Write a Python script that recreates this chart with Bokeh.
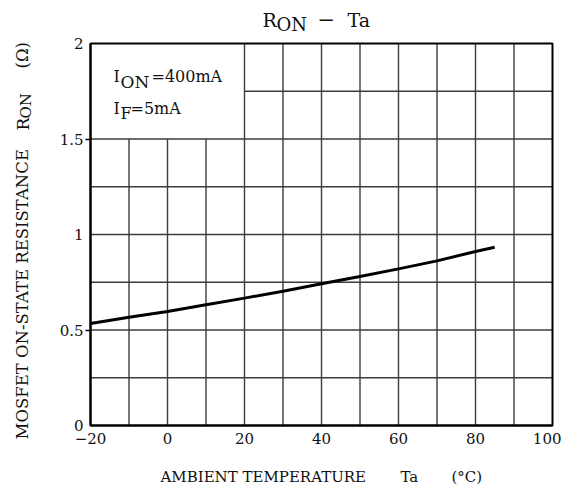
from bokeh.plotting import figure
from bokeh.models import Range1d, FixedTicker, Label
from bokeh.embed import file_html
from bokeh.resources import INLINE
import math

# ---- data ----
temps = [-20, -10, 0, 10, 20, 30, 40, 50, 60, 70, 80, 85]
ron = [0.534, 0.567, 0.597, 0.632, 0.667, 0.703, 0.742, 0.780, 0.820, 0.862, 0.911, 0.933]
x_ticks = [-20, 0, 20, 40, 60, 80, 100]
x_tick_labels = ["\u221220", "0", "20", "40", "60", "80", "100"]
y_ticks = [0, 0.5, 1, 1.5, 2]
y_tick_labels = ["0", "0.5", "1", "1.5", "2"]
y_tick_marks = [0.5, 1.5]
x_grid = [-10, 0, 10, 20, 30, 40, 50, 60, 70, 80, 90]
y_grid = [0.25, 0.5, 0.75, 1.0, 1.25, 1.5, 1.75]
x_lim = [-20, 100]
y_lim = [0, 2]
box_x = [-20, 20]      # blank condition box (upper-left)
box_y = [1.5, 2.0]

# ---- layout (pixels) ----
W, H = 561, 485
PL, PR, PT, PB = 90, 552, 43, 425   # plot area edges in canvas px
BASE_FIX = 6                        # label anchor correction

sx = (x_lim[1] - x_lim[0]) / (PR - PL)
sy = (y_lim[1] - y_lim[0]) / (PB - PT)
xr = Range1d(x_lim[0] - PL * sx, x_lim[1] + (W - PR) * sx)
yr = Range1d(y_lim[0] - (H - PB) * sy, y_lim[1] + PT * sy)

FONT = "DejaVu Serif"
INK = "#111111"
GRID = "#3c3c3c"

p = figure(width=W, height=H, output_backend="svg", toolbar_location=None,
           x_range=xr, y_range=yr,
           min_border_left=0, min_border_right=0, min_border_top=0, min_border_bottom=0)
p.background_fill_color = "white"
p.border_fill_color = "white"
p.outline_line_color = None
p.xgrid.visible = False
p.ygrid.visible = False

# ---- axes fixed at the plot-area edges ----
p.xaxis.fixed_location = y_lim[0]
p.xaxis.bounds = (x_lim[0], x_lim[1])
p.yaxis.fixed_location = x_lim[0]
p.yaxis.bounds = (y_lim[0], y_lim[1])
p.xaxis.ticker = FixedTicker(ticks=x_ticks)
p.yaxis.ticker = FixedTicker(ticks=y_ticks, minor_ticks=y_tick_marks)
p.xaxis.major_label_overrides = {t: l for t, l in zip(x_ticks, x_tick_labels)}
p.yaxis.major_label_overrides = {t: l for t, l in zip(y_ticks, y_tick_labels)}
for ax in (p.xaxis[0], p.yaxis[0]):
    ax.axis_line_color = "black"
    ax.axis_line_width = 2
    ax.major_label_text_font = FONT
    ax.major_label_text_font_size = "15px"
    ax.major_label_text_color = INK
    ax.major_tick_in = 0
    ax.major_tick_out = 0
    ax.minor_tick_in = 0
p.xaxis.minor_tick_out = 0
p.xaxis.major_label_standoff = 7
p.yaxis.minor_tick_out = 5
p.yaxis.minor_tick_line_width = 1.5
p.yaxis.minor_tick_line_color = "black"
p.yaxis.major_label_standoff = 2

# ---- grid (skipping the blank condition box) ----
vx = x_grid
vy0 = [y_lim[0]] * len(x_grid)
vy1 = [box_y[0] if box_x[0] < x < box_x[1] else y_lim[1] for x in x_grid]
hy = y_grid
hx0 = [box_x[1] if box_y[0] < y < box_y[1] else x_lim[0] for y in y_grid]
hx1 = [x_lim[1]] * len(y_grid)
p.segment(x0=vx, y0=vy0, x1=vx, y1=vy1, line_color=GRID, line_width=1.4)
p.segment(x0=hx0, y0=hy, x1=hx1, y1=hy, line_color=GRID, line_width=1.4)

# plot-area border
p.quad(left=[x_lim[0]], right=[x_lim[1]], bottom=[y_lim[0]], top=[y_lim[1]],
       fill_color=None, line_color="black", line_width=2)

# ---- curve ----
p.line(temps, ron, line_color="black", line_width=3)


def lab(text, px, py, size, angle=0, align="left", baseline="alphabetic"):
    if baseline == "alphabetic":
        py = py - BASE_FIX
    p.add_layout(Label(x=px, y=py, x_units="canvas", y_units="canvas", text=text,
                       text_font=FONT, text_font_size=size, text_color=INK,
                       angle=angle, text_align=align, text_baseline=baseline))


# title  R_ON - Ta
lab("R", 262, 25, "19px")
lab("ON", 276, 30, "18px")
lab("\u2212", 317, 25, "21px")
lab("Ta", 347, 25, "19px")

# condition texts
lab("I", 113, 82, "16px")
lab("ON", 120, 87, "17px")
lab("=400mA", 151, 82, "16px")
lab("I", 113, 114, "16px")
lab("F", 120, 119, "16px")
lab("=5mA", 130, 114, "16px")

# x axis title
lab("AMBIENT TEMPERATURE", 160, 482, "15px")
lab("Ta", 400, 482, "15px")
lab("(\u00b0C)", 451, 482, "15px")

# y axis title (reads bottom to top)
up = math.pi / 2
lab("MOSFET ON-STATE RESISTANCE", 22, 439, "16.5px", angle=up, baseline="middle")
lab("R", 22, 130, "17px", angle=up, baseline="middle")
lab("ON", 25, 118, "15px", angle=up, baseline="middle")
lab("(\u03a9)", 22, 68, "16.5px", angle=up, baseline="middle")

open("out.html", "w").write(file_html(p, INLINE))
